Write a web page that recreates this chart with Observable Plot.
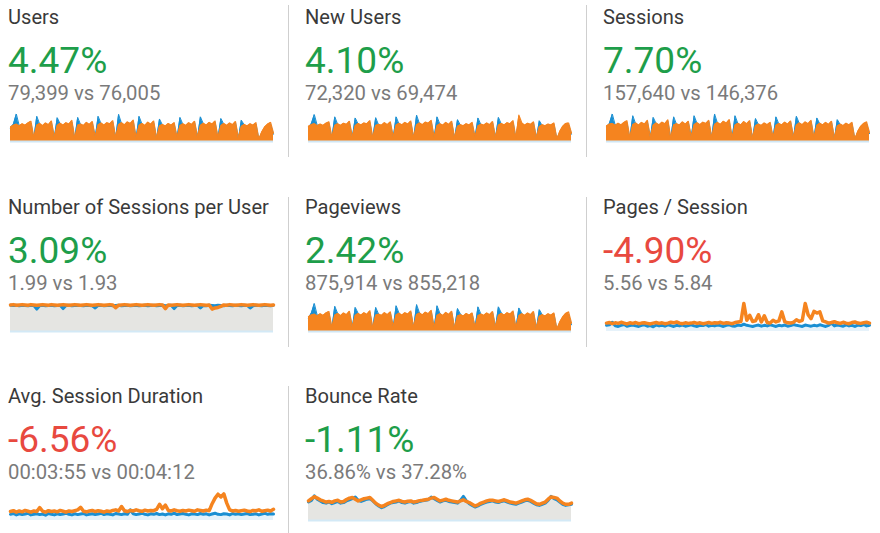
<!DOCTYPE html>
<html>
<head>
<meta charset="utf-8">
<script src="https://cdn.jsdelivr.net/npm/d3@7"></script>
<script src="https://cdn.jsdelivr.net/npm/@observablehq/plot@0.6"></script>
<style>
  html, body { margin: 0; padding: 0; background: #fff; }
  body { width: 880px; height: 533px; position: relative; overflow: hidden; font-family: Roboto, "Noto Sans", sans-serif; }
  .t { position: absolute; white-space: nowrap; line-height: 1; }
  .title { font-size: 20.1px; color: #3a3a3a; }
  .big { font-size: 37px; }
  .sub { font-size: 20.3px; color: #7a7a7a; }
  .div { position: absolute; width: 1px; background: #cfcfcf; }
  .spark { position: absolute; }
</style>
</head>
<body>
<script>
// ---------- metric cards ----------
const titles = ["Users", "New Users", "Sessions", "Number of Sessions per User", "Pageviews", "Pages / Session", "Avg. Session Duration", "Bounce Rate"];
const changes = ["4.47%", "4.10%", "7.70%", "3.09%", "2.42%", "-4.90%", "-6.56%", "-1.11%"];
const currentValues = ["79,399", "72,320", "157,640", "1.99", "875,914", "5.56", "00:03:55", "36.86%"];
const previousValues = ["76,005", "69,474", "146,376", "1.93", "855,218", "5.84", "00:04:12", "37.28%"];
const isGood = [true, true, true, true, true, false, false, true];

// ---------- sparkline series (relative height, 0-100) ----------
const usersCur = [52,58,62,55,63,58,66,72, 14,58,64,56,66,60,73, 16,57,65,58,67,62,75, 12,58,62,57,68,61,71, 17,59,66,58,67,63,74, 15,60,67,59,70,64,76, 14,57,64,57,69,62,73, 12,55,61,55,64,58,67, 15,56,63,57,67,61,72, 16,57,65,58,68,62,73, 14,56,64,57,66,60,71, 12,54,61,55,63,58,67, 8,34,52,62,68,30];
const usersPrev = [48,62,98,56,60,56,62,66, 11,90,62,54,62,58,68, 13,85,63,55,63,60,70, 10,86,60,55,64,58,67, 14,90,63,56,63,60,70, 12,97,64,57,66,61,72, 11,90,62,55,65,59,68, 9,80,59,53,60,55,64, 12,86,61,55,63,58,68, 13,88,63,56,64,59,70, 11,82,62,55,62,57,67, 9,76,59,53,60,55,63, 7,30,48,58,62,26];

const newUsersCur = [54,60,63,56,62,57,65,70, 15,57,63,57,65,61,72, 17,56,64,59,66,63,74, 13,57,61,58,67,60,70, 16,58,65,59,68,62,73, 14,59,66,60,69,65,75, 15,56,63,58,68,61,72, 13,54,60,56,63,59,68, 16,55,62,58,66,60,71, 15,58,64,59,67,63,74, 13,94,66,58,65,61,70, 13,53,60,56,62,59,66, 9,36,54,64,66,30];
const newUsersPrev = [50,64,96,57,59,55,61,65, 12,88,61,55,61,59,67, 14,84,62,56,62,61,69, 11,85,59,56,63,57,66, 13,88,62,57,64,59,69, 11,94,63,58,65,62,71, 12,88,61,56,63,58,67, 10,78,58,54,59,56,63, 13,84,60,56,62,57,67, 12,86,62,57,63,60,69, 10,80,63,56,62,58,66, 10,74,57,54,59,56,62, 8,30,48,60,60,26];

const sessionsCur = [55,62,64,57,65,59,68,74, 14,60,66,58,68,62,75, 16,58,66,59,69,63,77, 12,59,63,59,70,62,72, 17,60,67,60,69,64,75, 15,61,68,61,72,65,78, 14,58,65,59,71,63,74, 12,56,62,57,66,60,68, 15,57,64,59,69,62,73, 16,58,66,60,70,63,75, 14,57,65,59,68,61,72, 12,55,62,56,65,59,68, 9,36,54,64,70,32];
const sessionsPrev = [50,64,98,58,62,57,64,68, 11,92,63,56,64,59,70, 13,86,64,57,65,61,72, 10,88,61,57,66,59,69, 14,92,64,58,65,61,72, 12,98,65,59,68,62,74, 11,92,63,57,67,60,70, 9,82,60,55,62,56,66, 12,88,62,57,65,59,70, 13,90,64,58,66,60,72, 11,84,63,57,64,58,69, 9,78,60,55,62,56,65, 7,32,50,60,64,28];

const pageviewsCur = [53,59,62,55,63,57,66,71, 14,58,64,56,66,60,72, 16,57,64,58,67,61,74, 12,58,62,57,67,60,70, 17,59,65,58,67,62,73, 15,60,66,59,69,63,75, 14,57,63,57,68,61,72, 12,55,60,55,64,58,66, 15,56,62,57,66,60,71, 16,57,64,58,67,62,73, 14,56,63,57,66,60,71, 12,54,60,55,63,58,66, 8,34,52,64,70,30];
const pageviewsPrev = [48,66,100,57,60,56,62,66, 11,90,64,54,62,58,68, 13,86,65,55,63,60,70, 10,86,62,55,64,58,67, 14,92,65,56,63,60,70, 12,96,66,57,66,61,72, 11,92,64,55,65,59,68, 9,82,62,53,60,55,64, 12,88,62,55,63,58,68, 13,88,66,56,64,59,70, 11,84,64,55,62,57,67, 9,78,60,53,60,55,63, 7,28,46,58,62,24];

const perUserCur = [95,96,94,95,96,95,94,96,95,94, 95,96,95,94,96,95,94,95,96,95, 94,95,96,95,94,95,96,95,94,95, 96,95,94,95,96,95,85,94,95,96, 95,94,95,96,95,94,95,96,95,94, 95,96,95,82,95,94,95,96,95,94, 95,96,95,94,95,96,95,94,95,80, 84,86,90,95,94,96,95,94,95,96, 95,94,95,96,95,94,95,96,95,94, 95];
const perUserPrev = [94,93,94,92,94,93,92,94,93,80, 93,94,92,93,94,92,93,94,82,93, 94,92,93,94,93,92,94,93,92,84, 93,94,92,93,94,92,93,94,92,93, 94,92,93,94,92,93,94,92,93,94, 92,93,94,92,93,94,82,93,94,92, 93,94,92,93,94,84,93,92,94,93, 92,94,93,92,94,93,92,94,93,92, 94,93,84,92,94,93,92,94,93,92, 94];

const pagesCur = [30,32,28,31,29,33,30,27,31,29, 32,28,30,31,29,27,30,32,29,31, 28,30,33,31,34,30,28,31,29,30, 32,29,31,28,30,32,29,31,30,33, 29,31,30,28,32,34,36,100,40,58, 36,38,60,34,56,32,30,40,34,38, 70,35,31,30,33,42,36,40,100,60, 46,72,66,70,38,34,30,32,35,31, 29,33,30,28,32,34,30,29,31,33, 30];
const pagesPrev = [22,24,33,20,18,22,25,19,21,23, 20,18,22,24,19,21,17,23,20,22, 19,24,21,18,22,20,23,19,21,24, 20,18,22,21,25,19,22,20,23,21, 18,22,24,20,19,23,21,26,22,20, 18,21,23,19,22,20,24,21,18,22, 20,23,19,21,25,22,20,18,23,21, 19,22,20,24,21,18,22,30,20,23, 21,19,24,20,22,18,23,21,25,20, 22];

const durationCur = [32,35,30,34,31,36,33,30,34,32, 46,33,30,35,32,34,31,36,33,30, 34,32,35,38,47,33,31,34,36,32, 35,33,30,34,32,36,38,34,50,35, 32,36,34,38,35,33,37,34,36,35, 40,58,42,55,36,34,38,35,33,36, 34,37,35,33,38,36,34,37,35,60, 80,94,84,95,62,38,34,36,33,35, 37,34,32,36,35,38,33,35,37,34, 40];
const durationPrev = [22,25,20,24,21,23,26,20,22,24, 21,23,19,25,22,20,24,21,23,26, 22,20,24,21,23,25,20,22,24,21, 23,26,21,24,22,20,25,23,21,24, 22,38,24,21,23,26,22,20,24,22, 25,21,23,20,24,22,26,21,23,25, 22,20,24,23,21,25,22,24,20,23, 26,22,21,24,23,20,25,22,24,21, 23,25,21,22,24,20,23,26,22,24, 23];

const bounceCur = [70,78,85,80,74,70,66,68,65,70, 72,66,68,75,80,82,76,70,74,78, 80,82,72,62,55,50,54,60,64,68, 70,72,68,66,69,70,66,68,71,72, 74,76,80,82,76,70,73,76,72,70, 68,66,70,74,68,64,58,52,56,62, 66,70,72,72,70,68,71,74,70,66, 64,62,66,70,74,76,72,66,60,58, 62,66,76,84,82,80,70,62,58,58, 62];
const bouncePrev = [66,72,88,76,70,64,62,66,60,64, 68,62,64,70,74,78,84,72,68,72, 76,78,70,60,52,46,50,56,62,64, 66,70,64,62,66,68,62,64,68,70, 72,74,84,78,72,66,70,72,68,66, 64,62,72,86,70,60,54,48,52,58, 62,66,68,70,66,64,68,70,66,62, 60,58,62,66,70,72,68,62,56,54, 58,62,72,86,78,74,66,58,54,56, 58];

const seriesCur = [usersCur, newUsersCur, sessionsCur, perUserCur, pageviewsCur, pagesCur, durationCur, bounceCur];
const seriesPrev = [usersPrev, newUsersPrev, sessionsPrev, perUserPrev, pageviewsPrev, pagesPrev, durationPrev, bouncePrev];
const sparkStyle = ["area", "area", "area", "gray", "area", "line", "line", "gray"];

// ---------- drawing ----------
const ORANGE = "#f5841f";
const BLUE = "#1b8fd2";
const GREEN = "#1e9e4a";
const RED = "#e8493f";
const colText = [8, 305, 603];
const colSpark = [10, 308, 606];
const rowOff = [0, 190, 379];

function el(cls, x, y, text, color) {
  const d = document.createElement("div");
  d.className = cls;
  d.style.left = x + "px";
  d.style.top = y + "px";
  d.textContent = text;
  if (color) d.style.color = color;
  document.body.appendChild(d);
  return d;
}

function spark(i) {
  const cur = seriesCur[i], prev = seriesPrev[i];
  const style = sparkStyle[i];
  let marks;
  if (style === "area") {
    marks = [
      Plot.areaY(prev, {fill: BLUE}),
      Plot.lineY(prev, {stroke: BLUE, strokeWidth: 1}),
      Plot.areaY(cur, {fill: ORANGE}),
      Plot.lineY(cur, {stroke: ORANGE, strokeWidth: 1.2}),
      Plot.ruleY([0], {stroke: "#cfe6f4", strokeWidth: 2})
    ];
  } else if (style === "gray") {
    marks = [
      Plot.areaY(prev, {fill: "#e5e5e2"}),
      Plot.ruleY([0], {stroke: "#d3e9f6", strokeWidth: 2}),
      Plot.lineY(prev, {stroke: BLUE, strokeWidth: 3}),
      Plot.lineY(cur, {stroke: ORANGE, strokeWidth: 3.5})
    ];
  } else {
    marks = [
      Plot.areaY(prev, {fill: "#e6f2fa"}),
      Plot.lineY(prev, {stroke: BLUE, strokeWidth: 3}),
      Plot.lineY(cur, {stroke: ORANGE, strokeWidth: 3.5})
    ];
  }
  return Plot.plot({
    width: 263,
    height: 28,
    margin: 0,
    x: {axis: null, domain: [0, cur.length - 1]},
    y: {axis: null, domain: [0, 100]},
    style: {background: "transparent", overflow: "visible"},
    marks
  });
}

titles.forEach((title, i) => {
  const c = i % 3, r = Math.floor(i / 3);
  const x = colText[c], off = rowOff[r];
  el("t title", x, off + 7, title);
  el("t big", x, off + 42, changes[i], isGood[i] ? GREEN : RED);
  el("t sub", x, off + 83, currentValues[i] + " vs " + previousValues[i]);
  const s = spark(i);
  const wrap = document.createElement("div");
  wrap.className = "spark";
  wrap.style.left = colSpark[c] + "px";
  wrap.style.top = (off + 113) + "px";
  wrap.appendChild(s);
  document.body.appendChild(wrap);
});

// column dividers
[[288, 5, 152], [586, 5, 152], [288, 197, 150], [586, 197, 150], [288, 386, 147]].forEach(([x, y, h]) => {
  const d = document.createElement("div");
  d.className = "div";
  d.style.left = x + "px";
  d.style.top = y + "px";
  d.style.height = h + "px";
  document.body.appendChild(d);
});
</script>
</body>
</html>
